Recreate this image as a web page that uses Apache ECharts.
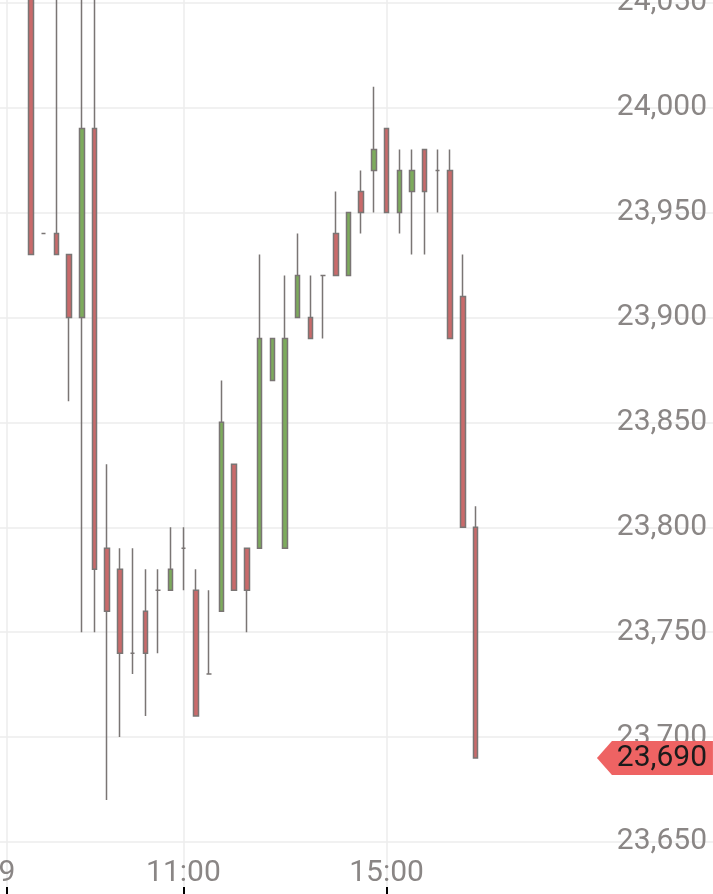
<!DOCTYPE html>
<html>
<head>
<meta charset="utf-8">
<script src="https://cdn.jsdelivr.net/npm/echarts@6/dist/echarts.min.js"></script>
<style>
  html, body { margin: 0; padding: 0; background: #ffffff; }
  #main { width: 713px; height: 894px; }
</style>
</head>
<body>
<div id="main"></div>
<script>
// 15-minute candles
const times = ['08:00','08:15','08:30','08:45','09:00','09:15','09:30','09:45',
  '10:00','10:15','10:30','10:45','11:00','11:15','11:30','11:45',
  '12:00','12:15','12:30','12:45','13:00','13:15','13:30','13:45',
  '14:00','14:15','14:30','14:45','15:00','15:15','15:30','15:45',
  '16:00','16:15','16:30','16:45'];
const opens  = [24070,23940,23940,23930,23900,23990,23790,23780,23740,23760,23770,23770,23790,23770,23730,23760,
                23830,23790,23790,23870,23790,23900,23900,23920,23940,23920,23960,23970,23990,23950,23960,23980,
                23970,23970,23910,23800];
const closes = [23930,23940,23930,23900,23990,23780,23760,23740,23740,23740,23770,23780,23790,23710,23730,23850,
                23770,23770,23890,23890,23890,23920,23890,23920,23920,23950,23950,23980,23950,23970,23970,23960,
                23970,23890,23800,23690];
const lows   = [23930,23940,23930,23860,23750,23750,23670,23700,23730,23710,23740,23770,23770,23710,23730,23760,
                23770,23750,23790,23870,23790,23900,23890,23890,23920,23920,23940,23950,23950,23940,23930,23930,
                23950,23890,23800,23690];
const highs  = [24080,23940,24070,23930,24060,24060,23830,23790,23790,23780,23780,23800,23800,23780,23770,23870,
                23830,23790,23930,23890,23920,23940,23920,23920,23960,23950,23970,24010,23990,23980,23980,23980,
                23980,23980,23930,23810];

const yTicks = [23650,23700,23750,23800,23850,23900,23950,24000,24050];
const xTickLabels = ['9','11:00','15:00'];
const dayBoundarySlot = -1.9;   // the day label '9' sits before the first candle

const xTickSlots = [dayBoundarySlot, times.indexOf('11:00'), times.indexOf('15:00')];
const fmt = v => Number(v).toLocaleString('en-US');

const data = times.map((t, i) => [i, opens[i], closes[i], lows[i], highs[i]]);
const last = closes[closes.length - 1];

const chart = echarts.init(document.getElementById('main'), null, { renderer: 'canvas' });
const gridColor = '#ececec';
const textColor = '#8a8685';

chart.setOption({
  animation: false,
  backgroundColor: '#ffffff',
  grid: { left: 0, right: 0, top: 0, bottom: 0, containLabel: false, outerBoundsMode: 'none' },
  xAxis: {
    type: 'value',
    min: -2.441,
    max: 53.70,
    axisLine: { show: false },
    axisTick: {
      show: true, inside: true, length: 7,
      lineStyle: { color: '#000000', width: 2 },
      customValues: xTickSlots
    },
    axisLabel: {
      inside: true, margin: 6,
      color: textColor, fontSize: 30, fontFamily: 'Roboto',
      customValues: xTickSlots,
      formatter: function (v) {
        for (let k = 0; k < xTickSlots.length; k++) {
          if (Math.abs(xTickSlots[k] - v) < 1e-6) return xTickLabels[k];
        }
        return '';
      }
    },
    splitLine: { show: true, lineStyle: { color: gridColor, width: 1.5 } }
  },
  yAxis: {
    type: 'value',
    position: 'right',
    min: 23625.2,
    max: 24051.3,
    axisLine: { show: false },
    axisTick: { show: false, customValues: yTicks },
    axisLabel: {
      inside: true, margin: 6,
      color: textColor, fontSize: 30, fontFamily: 'Roboto',
      customValues: yTicks,
      formatter: v => fmt(v)
    },
    splitLine: { show: true, lineStyle: { color: gridColor, width: 1.5 } }
  },
  series: [{
    type: 'candlestick',
    data: data,
    encode: { x: 0, y: [1, 2, 3, 4] },
    barWidth: 5,
    itemStyle: {
      color: '#7dab5c',
      color0: '#c96a6a',
      borderColor: '#7a7574',
      borderColor0: '#7a7574',
      borderWidth: 1.5
    },
    markPoint: {
      silent: true,
      symbol: 'path://M0,17 L15,0 L116,0 L116,34 L15,34 Z',
      symbolSize: [116, 34],
      symbolKeepAspect: false,
      itemStyle: { color: '#ee6363' },
      label: {
        show: true, position: 'inside', offset: [7, 0],
        color: '#1b1b1b', fontSize: 30, fontFamily: 'Roboto',
        formatter: () => fmt(last)
      },
      data: [{ coord: [49.13, last], value: last }]
    }
  }]
});
</script>
</body>
</html>
